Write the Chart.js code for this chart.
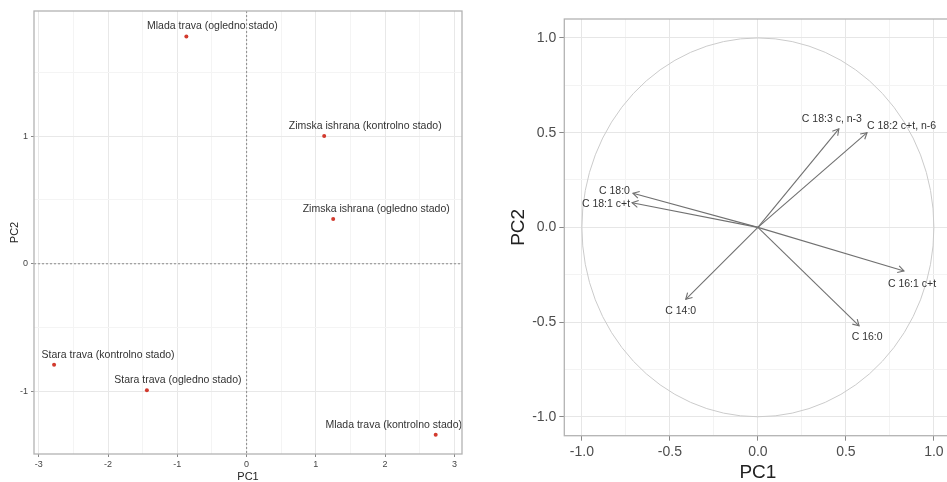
<!DOCTYPE html>
<html>
<head>
<meta charset="utf-8">
<script src="https://cdn.jsdelivr.net/npm/chart.js@4.4.1/dist/chart.umd.min.js"></script>
<style>
    html, body { margin: 0; padding: 0; background: #fff; }
    body { width: 947px; height: 482px; overflow: hidden; position: relative; }
    #scores-chart { position: absolute; left: 0; top: 0; }
    #loadings-chart { position: absolute; left: 480px; top: 0; }
</style>
</head>
<body>
<canvas id="scores-chart" width="470" height="482"></canvas>
<canvas id="loadings-chart" width="480" height="482"></canvas>
<script>
// ============================================
// DATA
// ============================================
// PCA scores (left panel)
const scoreNames = [
    'Mlada trava (ogledno stado)',
    'Zimska ishrana (kontrolno stado)',
    'Zimska ishrana (ogledno stado)',
    'Stara trava (kontrolno stado)',
    'Stara trava (ogledno stado)',
    'Mlada trava (kontrolno stado)',
];
const scorePC1 = [-0.87, 1.12, 1.25, -2.78, -1.44, 2.73];
const scorePC2 = [1.78, 1.00, 0.35, -0.79, -0.99, -1.34];
const scoreTicksX = [-3, -2, -1, 0, 1, 2, 3];
const scoreTicksY = [-1, 0, 1];

// Loadings / correlation circle (right panel)
const loadingNames = [
    'C 18:3 c, n-3',
    'C 18:2 c+t, n-6',
    'C 18:0',
    'C 18:1 c+t',
    'C 16:1 c+t',
    'C 14:0',
    'C 16:0',
];
const loadingPC1 = [0.46, 0.62, -0.71, -0.715, 0.83, -0.41, 0.575];
const loadingPC2 = [0.52, 0.50, 0.18, 0.13, -0.23, -0.38, -0.52];
const loadingTicks = [-1, -0.5, 0, 0.5, 1];

// ============================================
// HELPERS
// ============================================
const FONT = "'Liberation Sans', Arial, sans-serif";

// major ticks plus minor lines halfway between them
function withMinor(major) {
    const vals = major.slice();
    for (let i = 0; i < major.length - 1; i++) {
        vals.push((major[i] + major[i + 1]) / 2);
    }
    return vals;
}

function gridAxis(major, minor, opts) {
    const all = withMinor(major).concat(minor || []);
    return {
        type: 'linear',
        min: opts.min,
        max: opts.max,
        afterBuildTicks: (s) => {
            s.ticks = all
                .filter((v) => v >= opts.min && v <= opts.max)
                .sort((a, b) => a - b)
                .map((v) => ({ value: v }));
        },
        afterFit: (s) => {
            if (s.isHorizontal()) s.height = opts.size;
            else s.width = opts.size;
        },
        border: { display: false },
        grid: {
            color: (c) => (major.includes(c.tick.value) ? opts.majorColor : opts.minorColor),
            lineWidth: 1,
            tickLength: opts.tickLength,
            tickColor: (c) => (major.includes(c.tick.value) ? '#888' : 'rgba(0,0,0,0)'),
        },
        ticks: {
            autoSkip: false,
            maxRotation: 0,
            padding: opts.tickPadding,
            color: opts.tickColor,
            font: { family: FONT, size: opts.tickSize },
            callback: (v) => (major.includes(v) ? opts.format(v) : ''),
        },
        title: {
            display: true,
            text: opts.title,
            color: '#222',
            font: { family: FONT, size: opts.titleSize, lineHeight: 1 },
            padding: opts.titlePadding,
        },
    };
}

const panelBorder = {
    id: 'panelBorder',
    afterDraw(chart) {
        const { ctx, chartArea: a } = chart;
        ctx.save();
        ctx.strokeStyle = '#b3b3b3';
        ctx.lineWidth = 1.3;
        ctx.strokeRect(a.left, a.top, a.right - a.left, a.bottom - a.top);
        ctx.restore();
    },
};

// ============================================
// SCORES SCATTER (LEFT)
// ============================================
const zeroLines = {
    id: 'zeroLines',
    beforeDatasetsDraw(chart) {
        const { ctx, chartArea: a, scales } = chart;
        const x0 = scales.x.getPixelForValue(0);
        const y0 = scales.y.getPixelForValue(0);
        ctx.save();
        ctx.strokeStyle = '#8a8a8a';
        ctx.lineWidth = 1;
        ctx.setLineDash([2, 2]);
        ctx.beginPath();
        ctx.moveTo(x0, a.top);
        ctx.lineTo(x0, a.bottom);
        ctx.moveTo(a.left, y0);
        ctx.lineTo(a.right, y0);
        ctx.stroke();
        ctx.restore();
    },
};

const scoreLabels = {
    id: 'scoreLabels',
    afterDatasetsDraw(chart, args, opts) {
        const { ctx } = chart;
        const meta = chart.getDatasetMeta(0);
        ctx.save();
        ctx.font = '10.5px ' + FONT;
        ctx.fillStyle = '#333';
        ctx.textAlign = 'center';
        ctx.textBaseline = 'middle';
        meta.data.forEach((pt, i) => {
            ctx.fillText(scoreNames[i], pt.x + opts.shift[i], pt.y - 10);
        });
        ctx.restore();
    },
};

function createScoresChart() {
    const ctx = document.getElementById('scores-chart');
    new Chart(ctx, {
        type: 'scatter',
        data: {
            datasets: [
                {
                    data: scorePC1.map((x, i) => ({ x: x, y: scorePC2[i] })),
                    backgroundColor: '#d23a2e',
                    borderWidth: 0,
                    pointRadius: 2,
                },
            ],
        },
        options: {
            responsive: false,
            animation: false,
            devicePixelRatio: 1,
            layout: { padding: { left: 0, top: 11, right: 8, bottom: 0 } },
            plugins: {
                legend: { display: false },
                tooltip: { enabled: false },
                scoreLabels: { shift: [26, 41, 43, 54, 31, -42] },
            },
            scales: {
                x: gridAxis(scoreTicksX, [], {
                    min: -3.07, max: 3.11, size: 28,
                    majorColor: '#e8e8e8', minorColor: '#f4f4f4',
                    tickLength: 3, tickPadding: 2, tickColor: '#444', tickSize: 9,
                    format: (v) => String(v), title: 'PC1', titleSize: 11,
                    titlePadding: { top: 0, bottom: 0 },
                }),
                y: gridAxis(scoreTicksY, [1.5], {
                    min: -1.49, max: 1.98, size: 34,
                    majorColor: '#e8e8e8', minorColor: '#f4f4f4',
                    tickLength: 3, tickPadding: 3, tickColor: '#444', tickSize: 9,
                    format: (v) => String(v), title: 'PC2', titleSize: 11,
                    titlePadding: { top: 9, bottom: 0 },
                }),
            },
        },
        plugins: [zeroLines, scoreLabels, panelBorder],
    });
}

// ============================================
// CORRELATION CIRCLE (RIGHT)
// ============================================
const unitCircle = {
    id: 'unitCircle',
    beforeDatasetsDraw(chart) {
        const { ctx, scales } = chart;
        const cx = scales.x.getPixelForValue(0);
        const cy = scales.y.getPixelForValue(0);
        const rx = scales.x.getPixelForValue(1) - cx;
        const ry = cy - scales.y.getPixelForValue(1);
        ctx.save();
        ctx.strokeStyle = '#cbcbcb';
        ctx.lineWidth = 1;
        ctx.beginPath();
        ctx.ellipse(cx, cy, rx, ry, 0, 0, Math.PI * 2);
        ctx.stroke();
        ctx.restore();
    },
};

const arrowHeads = {
    id: 'arrowHeads',
    afterDatasetsDraw(chart, args, opts) {
        const { ctx, scales } = chart;
        const ox = scales.x.getPixelForValue(0);
        const oy = scales.y.getPixelForValue(0);
        ctx.save();
        ctx.strokeStyle = '#707070';
        ctx.lineWidth = 1.1;
        loadingPC1.forEach((v, i) => {
            const tx = scales.x.getPixelForValue(v);
            const ty = scales.y.getPixelForValue(loadingPC2[i]);
            const ang = Math.atan2(ty - oy, tx - ox);
            const len = 7;
            const spread = Math.PI / 6;
            ctx.beginPath();
            ctx.moveTo(tx - len * Math.cos(ang - spread), ty - len * Math.sin(ang - spread));
            ctx.lineTo(tx, ty);
            ctx.lineTo(tx - len * Math.cos(ang + spread), ty - len * Math.sin(ang + spread));
            ctx.stroke();
        });

        ctx.font = '10.5px ' + FONT;
        ctx.fillStyle = '#333';
        ctx.textBaseline = 'middle';
        loadingNames.forEach((name, i) => {
            const tx = scales.x.getPixelForValue(loadingPC1[i]);
            const ty = scales.y.getPixelForValue(loadingPC2[i]);
            const o = opts.offsets[i];
            ctx.textAlign = o[2];
            ctx.fillText(name, tx + o[0], ty + o[1]);
        });
        ctx.restore();
    },
};

function createLoadingsChart() {
    const ctx = document.getElementById('loadings-chart');
    const fmt = (v) => v.toFixed(1);
    new Chart(ctx, {
        type: 'scatter',
        data: {
            datasets: loadingPC1.map((x, i) => ({
                data: [{ x: 0, y: 0 }, { x: x, y: loadingPC2[i] }],
                showLine: true,
                borderColor: '#707070',
                borderWidth: 1.1,
                pointRadius: 0,
            })),
        },
        options: {
            responsive: false,
            animation: false,
            devicePixelRatio: 1,
            layout: { padding: { left: 0, top: 19, right: 8.5, bottom: 0 } },
            plugins: {
                legend: { display: false },
                tooltip: { enabled: false },
                arrowHeads: {
                    // [dx, dy, align] of each label relative to its arrow tip
                    offsets: [
                        [-7, -10, 'center'],
                        [0, -7, 'left'],
                        [-3, -2, 'right'],
                        [-2, 1, 'right'],
                        [8, 13, 'center'],
                        [-5, 12, 'center'],
                        [8, 11, 'center'],
                    ],
                },
            },
            scales: {
                x: gridAxis(loadingTicks, [], {
                    min: -1.1, max: 1.1, size: 46.3,
                    majorColor: '#e6e6e6', minorColor: '#f3f3f3',
                    tickLength: 5, tickPadding: 3, tickColor: '#4d4d4d', tickSize: 14,
                    format: fmt, title: 'PC1', titleSize: 19,
                    titlePadding: { top: 0, bottom: 0 },
                }),
                y: gridAxis(loadingTicks, [], {
                    min: -1.1, max: 1.1, size: 84.3,
                    majorColor: '#e6e6e6', minorColor: '#f3f3f3',
                    tickLength: 5, tickPadding: 3, tickColor: '#4d4d4d', tickSize: 14,
                    format: fmt, title: 'PC2', titleSize: 19,
                    titlePadding: { top: 29, bottom: 0 },
                }),
            },
        },
        plugins: [unitCircle, arrowHeads, panelBorder],
    });
}

// ============================================
// INITIALIZE CHARTS
// ============================================
document.addEventListener('DOMContentLoaded', function () {
    createScoresChart();
    createLoadingsChart();
});
</script>
</body>
</html>
